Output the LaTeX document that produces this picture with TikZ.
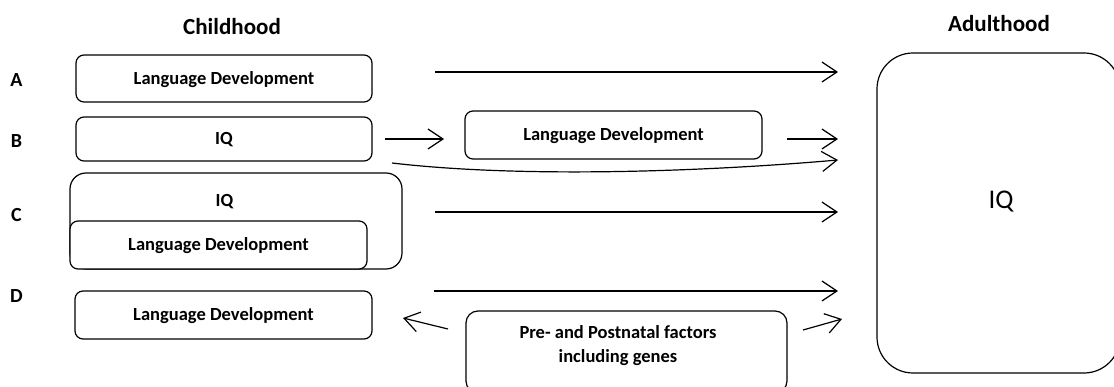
\documentclass[tikz,border=0pt]{standalone}
\usepackage{fontspec}
\setmainfont{Carlito}
\usetikzlibrary{arrows.meta}
\begin{document}
\begin{tikzpicture}[x=1pt, y=-1pt, line width=1.2pt, ->/.style={-{Straight Barb[length=15pt,width=20pt,line width=1.2pt]}},
box/.style={draw, rounded corners=8pt, fill=white, inner sep=0pt, text height=12pt, text depth=0pt, font=\bfseries\fontsize{18.5}{24}\selectfont},
head/.style={inner sep=0pt, text height=15pt, text depth=0pt, font=\bfseries\fontsize{23}{26}\selectfont},
row/.style={inner sep=0pt, text height=13pt, text depth=0pt, font=\bfseries\fontsize{20}{24}\selectfont},
txt/.style={inner sep=0pt, font=\bfseries\fontsize{18.5}{24}\selectfont, align=center}]
\useasboundingbox (0,0) rectangle (1114,387);
% headings and row letters
\node[head] (child) at (232,27.5) {Childhood};
\node[head] (adult) at (999,24.5) {Adulthood};
\node[row] (rowa) at (16.5,80.5) {A};
\node[row] (rowb) at (16.5,141.5) {B};
\node[row] (rowc) at (16.5,215.5) {C};
\node[row] (rowd) at (16.5,296) {D};
% childhood boxes
\node[box, minimum width=296pt, minimum height=47pt] (lda) at (224,78.5) {Language Development};
\node[box, minimum width=296pt, minimum height=44pt] (iqb) at (224,139) {IQ};
\node[box, minimum width=297pt, minimum height=48pt] (ldb) at (613.5,135) {Language Development};
\node[box, rounded corners=16pt, minimum width=332pt, minimum height=96pt] (iqc) at (236,221) {};
\node[box, draw=none, fill=none] (iqctext) at (224.5,200.5) {IQ};
\node[box, minimum width=297pt, minimum height=48pt] (ldc) at (218.5,245) {Language Development};
\node[box, minimum width=297pt, minimum height=48pt] (ldd) at (223.5,315) {Language Development};
\node[box, rounded corners=12pt, minimum width=321pt, minimum height=82pt] (pre) at (626.5,352) {};
\node[txt] (pretext) at (618,345.5) {Pre- and Postnatal factors\\including genes};
% adulthood
\node[box, rounded corners=36pt, minimum width=243pt, minimum height=320pt] (iqa) at (998.5,213) {};
\node[inner sep=0pt, text height=17pt, text depth=0pt, font=\fontsize{27}{30}\selectfont] (iqatext) at (1001,200) {IQ};
% arrow ends
\coordinate (a1) at (435,72);  \coordinate (a2) at (838,72);
\coordinate (b1) at (385,139); \coordinate (b2) at (444,139);
\coordinate (b3) at (787,139); \coordinate (b4) at (838,139);
\coordinate (b5) at (392,163); \coordinate (b6) at (838,160);
\coordinate (c1) at (435,212); \coordinate (c2) at (838,212);
\coordinate (d1) at (434,291); \coordinate (d2) at (838,291);
\coordinate (d3) at (448,329); \coordinate (d4) at (403,318);
\coordinate (d5) at (803,330); \coordinate (d6) at (842,319);
\draw[->] (a1) -- (a2);
\draw[->] (b1) -- (b2);
\draw[->] (b3) -- (b4);
\draw[->] (b5) .. controls (520,178) and (700,172) .. (b6);
\draw[->] (c1) -- (c2);
\draw[->] (d1) -- (d2);
\draw[->] (d3) -- (d4);
\draw[->] (d5) -- (d6);
\end{tikzpicture}
\end{document}
